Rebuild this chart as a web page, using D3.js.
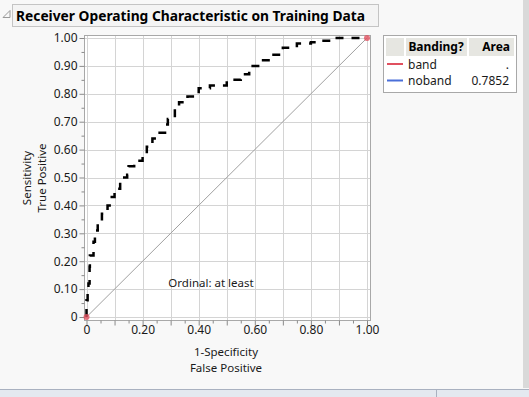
<!DOCTYPE html>
<html>
<head>
<meta charset="utf-8">
<script src="https://cdn.jsdelivr.net/npm/d3@7"></script>
<style>
  body { margin: 0; background: #f8f8f8; }
  svg text { font-family: "Noto Sans", sans-serif; fill: #1a1a1a; }
</style>
</head>
<body>
<div id="roc"></div>
<script>
// ROC curve for "noband"
var fpr = [0, 0, 0.004, 0.007, 0.011, 0.012, 0.025, 0.03, 0.04, 0.055,
           0.075, 0.09, 0.10, 0.12, 0.145, 0.15, 0.17, 0.2, 0.215, 0.235,
           0.25, 0.28, 0.29, 0.315, 0.33, 0.36, 0.4, 0.44, 0.5, 0.55,
           0.58, 0.62, 0.66, 0.7, 0.75, 0.8, 0.84, 0.88, 1.0];
var tpr = [0, 0.06, 0.09, 0.12, 0.18, 0.22, 0.27, 0.31, 0.34, 0.37,
           0.40, 0.43, 0.46, 0.50, 0.51, 0.54, 0.56, 0.58, 0.61, 0.64,
           0.66, 0.69, 0.71, 0.75, 0.77, 0.79, 0.82, 0.83, 0.85, 0.87,
           0.90, 0.92, 0.94, 0.965, 0.98, 0.985, 0.99, 1.0, 1.0];

// legend table
var legendGroups = ["band", "noband"];
var legendAreas = [".", "0.7852"];
var legendColors = ["#e0505f", "#4a6fd8"];

var xTicks = [0, 0.2, 0.4, 0.6, 0.8, 1.0];
var yTicks = [0, 0.1, 0.2, 0.3, 0.4, 0.5, 0.6, 0.7, 0.8, 0.9, 1.0];

var W = 529, H = 397;
var svg = d3.select("#roc").append("svg")
    .attr("width", W)
    .attr("height", H);

svg.append("rect").attr("width", W).attr("height", H).attr("fill", "#f8f8f8");

// title bar
svg.append("path")
    .attr("d", "M3,17.5 L10,10.5 L10,17.5 Z")
    .attr("fill", "none")
    .attr("stroke", "#9a9a9a");
svg.append("rect")
    .attr("x", 12.5).attr("y", 4.5)
    .attr("width", 366).attr("height", 22)
    .attr("fill", "#f4f4f4")
    .attr("stroke", "#c4c4c4");
svg.append("text")
    .attr("x", 16).attr("y", 21)
    .attr("font-size", 14)
    .attr("font-weight", "bold")
    .attr("textLength", 349)
    .attr("lengthAdjust", "spacingAndGlyphs")
    .style("fill", "#000")
    .text("Receiver Operating Characteristic on Training Data");

// plot frame
var frame = {left: 84, top: 35, right: 370, bottom: 320};
var x = d3.scaleLinear().domain([0, 1]).range([86.5, 367]);
var y = d3.scaleLinear().domain([0, 1]).range([317, 38]);

svg.append("rect")
    .attr("x", frame.left + 0.5).attr("y", frame.top + 0.5)
    .attr("width", frame.right - frame.left)
    .attr("height", frame.bottom - frame.top)
    .attr("fill", "#fff")
    .attr("stroke", "#a8a8a8");

// gridlines
var grid = d3.range(0, 11).map(function(i) { return i / 10; });
svg.append("g").selectAll("line")
    .data(grid)
    .enter().append("line")
    .attr("x1", function(d) { return Math.round(x(d)) + 0.5; })
    .attr("x2", function(d) { return Math.round(x(d)) + 0.5; })
    .attr("y1", frame.top + 1).attr("y2", frame.bottom)
    .attr("stroke", "#d4d4d4");
svg.append("g").selectAll("line")
    .data(grid)
    .enter().append("line")
    .attr("y1", function(d) { return Math.round(y(d)) + 0.5; })
    .attr("y2", function(d) { return Math.round(y(d)) + 0.5; })
    .attr("x1", frame.left + 1).attr("x2", frame.right)
    .attr("stroke", "#d4d4d4");

// axes
var minor = d3.range(0, 21).map(function(i) { return i / 20; });
var xAxis = svg.append("g")
    .attr("transform", "translate(0," + (frame.bottom + 0.5) + ")");
xAxis.call(d3.axisBottom(x).tickValues(minor).tickSize(3).tickFormat(""));
xAxis.call(function(g) {
    g.select(".domain").remove();
    g.selectAll(".tick line").attr("stroke", "#8a8a8a")
        .attr("y2", function(d) { return Math.round(d * 20) % 2 === 0 ? 5 : 3; });
});
var xLab = svg.append("g")
    .attr("transform", "translate(0," + (frame.bottom + 0.5) + ")")
    .call(d3.axisBottom(x).tickValues(xTicks).tickSize(0).tickPadding(5)
        .tickFormat(function(d) { return d === 0 ? "0" : d3.format(".2f")(d); }));
xLab.select(".domain").remove();
xLab.selectAll("text").attr("font-size", 12).style("font-family", "Noto Sans").style("fill", "#1a1a1a");

var yAxis = svg.append("g")
    .attr("transform", "translate(" + (frame.left + 0.5) + ",0)");
yAxis.call(d3.axisLeft(y).tickValues(minor).tickSize(3).tickFormat(""));
yAxis.call(function(g) {
    g.select(".domain").remove();
    g.selectAll(".tick line").attr("stroke", "#8a8a8a")
        .attr("x2", function(d) { return Math.round(d * 20) % 2 === 0 ? -5 : -3; });
});
var yLab = svg.append("g")
    .attr("transform", "translate(" + (frame.left + 0.5) + ",0)")
    .call(d3.axisLeft(y).tickValues(yTicks).tickSize(0).tickPadding(7)
        .tickFormat(function(d) { return d === 0 ? "0" : d3.format(".2f")(d); }));
yLab.select(".domain").remove();
yLab.selectAll("text").attr("font-size", 12).style("font-family", "Noto Sans").style("fill", "#1a1a1a");

// axis titles
svg.append("text")
    .attr("x", 226).attr("y", 356)
    .attr("text-anchor", "middle").attr("font-size", 11.5)
    .text("1-Specificity");
svg.append("text")
    .attr("x", 226).attr("y", 372)
    .attr("text-anchor", "middle").attr("font-size", 11.5)
    .text("False Positive");
svg.append("text")
    .attr("transform", "translate(31,178) rotate(-90)")
    .attr("text-anchor", "middle").attr("font-size", 11.5)
    .text("Sensitivity");
svg.append("text")
    .attr("transform", "translate(46,178) rotate(-90)")
    .attr("text-anchor", "middle").attr("font-size", 11.5)
    .text("True Positive");

// diagonal reference
svg.append("line")
    .attr("x1", x(0)).attr("y1", y(0))
    .attr("x2", x(1)).attr("y2", y(1))
    .attr("stroke", "#a0a0a0");

svg.append("text")
    .attr("x", 211).attr("y", 287)
    .attr("text-anchor", "middle").attr("font-size", 11.5)
    .text("Ordinal: at least");

// ROC curve
var pts = fpr.map(function(f, i) { return [f, tpr[i]]; });
var line = d3.line()
    .x(function(d) { return x(d[0]); })
    .y(function(d) { return y(d[1]); })
    .curve(d3.curveStepAfter);
svg.append("path")
    .datum(pts)
    .attr("d", line)
    .attr("fill", "none")
    .attr("stroke", "#000")
    .attr("stroke-width", 2.5)
    .attr("stroke-dasharray", "8,8");

// end markers
svg.append("g").selectAll("circle")
    .data([[0, 0], [1, 1]])
    .enter().append("circle")
    .attr("cx", function(d) { return x(d[0]); })
    .attr("cy", function(d) { return y(d[1]); })
    .attr("r", 3)
    .attr("fill", "#e0505f")
    .attr("opacity", 0.8);

// legend
var lg = svg.append("g");
lg.append("rect")
    .attr("x", 383.5).attr("y", 35.5)
    .attr("width", 133).attr("height", 57)
    .attr("fill", "#fff")
    .attr("stroke", "#a8a8a8");
lg.append("rect").attr("x", 386).attr("y", 38).attr("width", 18).attr("height", 18).attr("fill", "#e6e6e1");
lg.append("rect").attr("x", 406).attr("y", 38).attr("width", 61).attr("height", 18).attr("fill", "#e6e6e1");
lg.append("rect").attr("x", 469).attr("y", 38).attr("width", 45).attr("height", 18).attr("fill", "#e6e6e1");
lg.append("text").attr("x", 436).attr("y", 51).attr("text-anchor", "middle")
    .attr("font-size", 12).attr("font-weight", "bold").style("fill", "#000").text("Banding?");
lg.append("text").attr("x", 510).attr("y", 51).attr("text-anchor", "end")
    .attr("font-size", 12).attr("font-weight", "bold").style("fill", "#000").text("Area");

var rows = lg.selectAll(".row")
    .data(legendGroups)
    .enter().append("g")
    .attr("transform", function(d, i) { return "translate(0," + (64 + i * 16.5) + ")"; });
rows.append("line")
    .attr("x1", 387).attr("x2", 403)
    .attr("stroke", function(d, i) { return legendColors[i]; })
    .attr("stroke-width", 2);
rows.append("text")
    .attr("x", 408).attr("y", 4.5)
    .attr("font-size", 12)
    .text(function(d) { return d; });
rows.append("text")
    .attr("x", 509).attr("y", 4.5)
    .attr("text-anchor", "end")
    .attr("font-size", 12)
    .text(function(d, i) { return legendAreas[i]; });

// window chrome: scrollbar and status bar
svg.append("rect").attr("x", 523).attr("y", 0).attr("width", 6).attr("height", 388).attr("fill", "#d9d9d9");
svg.append("rect").attr("x", 0).attr("y", 389).attr("width", W).attr("height", 8).attr("fill", "#e4e9f0");
svg.append("line").attr("x1", 0).attr("x2", W).attr("y1", 389.5).attr("y2", 389.5).attr("stroke", "#a9b1c0");
svg.append("line").attr("x1", 436.5).attr("x2", 436.5).attr("y1", 390).attr("y2", 397).attr("stroke", "#a9b1c0");
</script>
</body>
</html>
